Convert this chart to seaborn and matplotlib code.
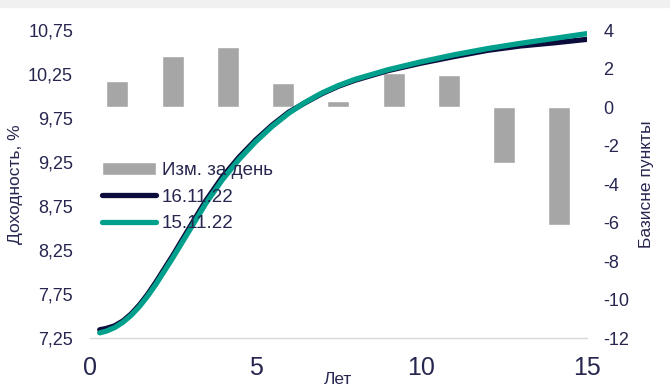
import matplotlib
matplotlib.use("Agg")
import matplotlib.pyplot as plt
import matplotlib.ticker as mticker
from matplotlib.patches import Rectangle
import seaborn as sns
import pandas as pd

# yield curves, % (years to maturity)
years = [0.3, 0.5, 0.75, 1.0, 1.25, 1.5, 1.75, 2.0, 2.5, 3.0, 3.5, 4.0, 4.5,
         5.0, 5.5, 6.0, 6.5, 7.0, 7.5, 8.0, 9.0, 10.0, 11.0, 12.0, 13.0, 14.0, 15.0]
curve_1611 = [7.345, 7.36, 7.39, 7.445, 7.525, 7.628, 7.75, 7.889, 8.186, 8.50,
              8.811, 9.081, 9.305, 9.50, 9.67, 9.817, 9.925, 10.027, 10.112,
              10.18, 10.29, 10.375, 10.45, 10.52, 10.57, 10.605, 10.645]
curve_1511 = [7.31, 7.33, 7.37, 7.43, 7.51, 7.61, 7.73, 7.865, 8.16, 8.47,
              8.78, 9.05, 9.28, 9.48, 9.655, 9.805, 9.93, 10.035, 10.12,
              10.19, 10.30, 10.39, 10.47, 10.54, 10.60, 10.655, 10.71]

# daily change, bp
bar_terms = ["1", "2", "3", "4", "5", "6", "7", "8", "9"]
bar_change = [1.35, 2.64, 3.14, 1.26, 0.33, 1.78, 1.69, -2.9, -6.1]

x_ticks = [0, 5, 10, 15]
left_ticks = [7.25, 7.75, 8.25, 8.75, 9.25, 9.75, 10.25, 10.75]
right_ticks = [-12, -10, -8, -6, -4, -2, 0, 2, 4]

sns.set_style("white")
plt.rcParams['font.family'] = ['Liberation Sans', 'DejaVu Sans']
plt.rcParams['axes.unicode_minus'] = False

txt = '#262650'
dark = '#0c0c3c'
teal = '#00a08c'
grey = '#a6a6a6'

df = pd.DataFrame({
    'Лет': years + years,
    'Доходность': curve_1611 + curve_1511,
    'Дата': ['16.11.22'] * len(years) + ['15.11.22'] * len(years),
})

fig = plt.figure(figsize=(6.7, 3.86), dpi=100)
fig.patches.append(Rectangle((0, 1 - 7 / 386), 1, 7 / 386, transform=fig.transFigure,
                             color='#f0f0f0', zorder=0))
pos = [0.134, 0.124, 0.742, 0.798]
axb = fig.add_axes(pos)
axl = fig.add_axes(pos)

# bars on the right scale
sns.barplot(x=bar_terms, y=bar_change, color=grey, saturation=1, width=0.4, ax=axb)
axb.set_xlim(-0.5, len(bar_terms) - 0.5)
axb.set_ylim(-12, 4)
axb.set_xticks([])
axb.set_xlabel('')
axb.yaxis.tick_right()
axb.yaxis.set_label_position('right')
axb.set_yticks(right_ticks)
axb.tick_params(axis='y', labelsize=13, colors=txt, length=0, pad=12)
axb.set_ylabel('Базисне пункты', fontsize=12.5, color=txt, labelpad=7)
for s in axb.spines.values():
    s.set_visible(False)
axb.containers[0].set_label('Изм. за день')

# yield lines on top
sns.lineplot(data=df, x='Лет', y='Доходность', hue='Дата',
             hue_order=['16.11.22', '15.11.22'], palette=[dark, teal],
             linewidth=3.8, ax=axl)
axl.patch.set_visible(False)
axl.set_xlim(0, 15)
axl.set_ylim(7.25, 10.75)
axl.set_xticks(x_ticks)
axl.set_yticks(left_ticks)
axl.yaxis.set_major_formatter(mticker.FuncFormatter(lambda v, p: f"{v:.2f}".replace('.', ',')))
axl.tick_params(axis='x', labelsize=18, colors=txt, length=0, pad=13)
axl.tick_params(axis='y', labelsize=13, colors=txt, length=0, pad=12)
axl.set_ylabel('Доходность, %', fontsize=12.5, color=txt, labelpad=4)
axl.set_xlabel('Лет', fontsize=12.5, color=txt)
axl.xaxis.set_label_coords(0.5, -0.11)
for k in ['top', 'right', 'left']:
    axl.spines[k].set_visible(False)
axl.spines['bottom'].set_color('#d9d9d9')
axl.spines['bottom'].set_linewidth(1)

h, l = axl.get_legend_handles_labels()
axl.get_legend().remove()
handles = [axb.containers[0]] + h
labels = ['Изм. за день'] + l
axl.legend(handles, labels, loc='upper left', bbox_to_anchor=(0.024, 0.572),
           frameon=False, fontsize=13.5, handlelength=2.9, handletextpad=0.3,
           labelspacing=0.5, borderaxespad=0, borderpad=0, labelcolor=txt)

fig.savefig('out.png', dpi=100)
